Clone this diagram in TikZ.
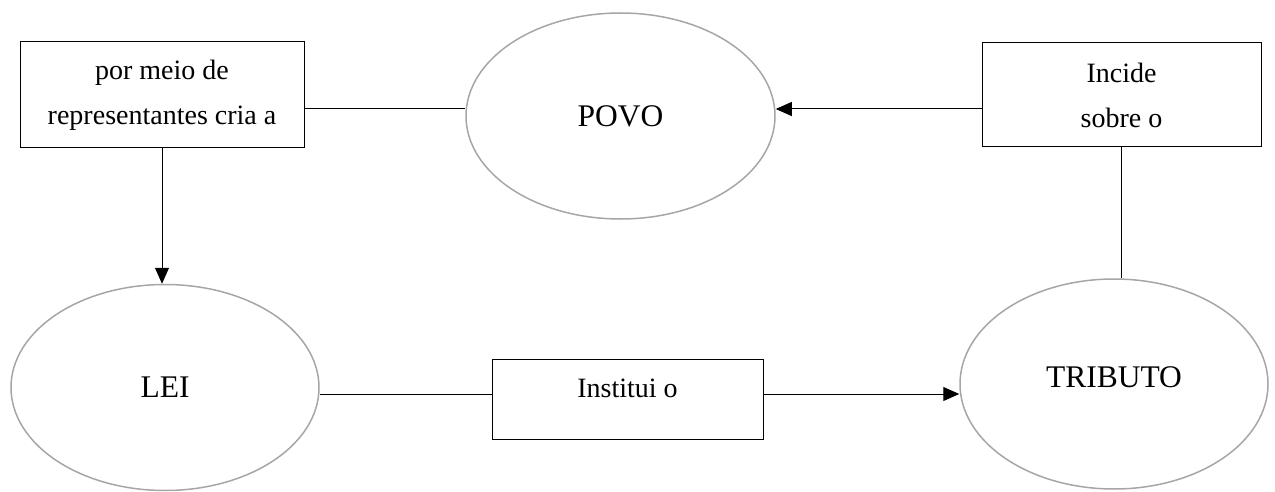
\documentclass[tikz,border=0pt]{standalone}
\usepackage{fontspec}
\setmainfont{Liberation Serif}
\usetikzlibrary{shapes.geometric,arrows.meta}
\definecolor{rim}{HTML}{A6A6A6}

\begin{document}
\begin{tikzpicture}[x=0.5pt, y=-0.5pt,
box/.style={shape=rectangle, draw, line width=0.5pt, align=center, inner sep=0pt, font=\fontsize{14}{22.5}\selectfont},
blob/.style={shape=ellipse, draw=rim, line width=0.75pt, inner sep=0pt, minimum width=154pt, minimum height=103pt, font=\fontsize{15.75}{19}\selectfont},
link/.style={draw, line width=0.5pt},
tip/.style={-{Triangle[length=8pt,width=7pt]}}]
\useasboundingbox (0,0) rectangle (1275,492);
\node (meio) [box, minimum width=142pt, minimum height=53pt] at (162,95) {por meio de\\representantes cria a};
\node (povo) [blob, minimum width=154.5pt] at (620.5,116) {POVO};
\node (incide) [box, minimum width=139.5pt, minimum height=52pt] at (1121.5,95) {Incide\\sobre o};
\node (lei) [blob] at (165,387.5) {LEI};
\node (institui) [box, minimum width=135.5pt, minimum height=40pt, text height=10pt, text depth=12pt] at (627.5,399) {Institui o};
\node (tributo) [blob, minimum height=105pt, text height=10.5pt, text depth=7.5pt] at (1114,384) {TRIBUTO};
\draw [link] ([yshift=-7pt]meio.east) -- ([yshift=-7pt]meio.east -| povo.west);
\draw [link, tip] ([yshift=-7pt]incide.west) -- ([yshift=-7pt]incide.west -| povo.east);
\draw [link, tip] (meio.south) -- (meio.south |- lei.north);
\draw [link] (incide.south) -- (incide.south |- tributo.north);
\draw [link] ([yshift=2.5pt]institui.west) -- ([yshift=2.5pt]institui.west -| lei.east);
\draw [link, tip] ([yshift=2.5pt]institui.east) -- ([yshift=2.5pt]institui.east -| tributo.west);
\end{tikzpicture}
\end{document}
